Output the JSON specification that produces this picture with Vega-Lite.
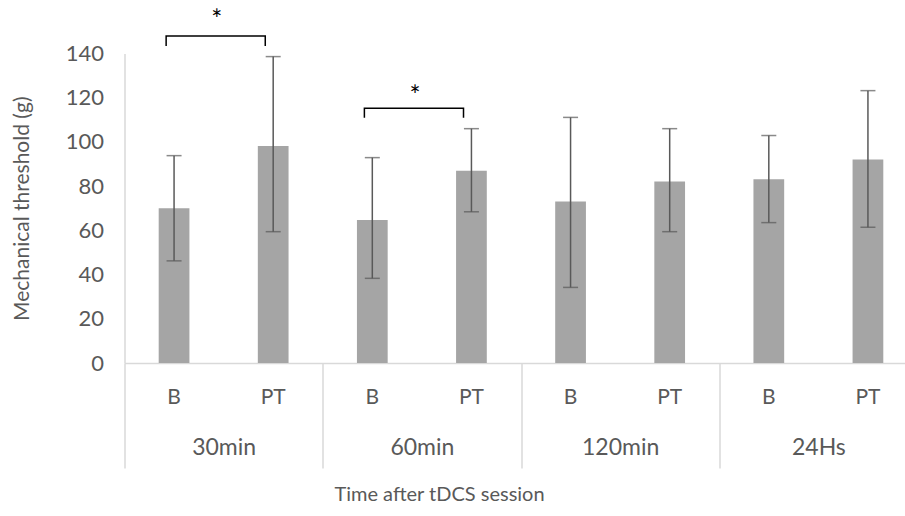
{
  "$schema": "https://vega.github.io/schema/vega-lite/v6.json",
  "width": 780.5,
  "height": 309.5,
  "autosize": "none",
  "padding": {"left": 124.5, "top": 53.5, "right": 0, "bottom": 153},
  "background": "white",
  "datasets": {
    "main": [
      {"time": "30min", "cond": "B", "cat": "30min B", "mean": 70.0, "lo": 46.2, "hi": 93.8},
      {"time": "30min", "cond": "PT", "cat": "30min PT", "mean": 98.2, "lo": 59.4, "hi": 138.6},
      {"time": "60min", "cond": "B", "cat": "60min B", "mean": 64.7, "lo": 38.3, "hi": 92.9},
      {"time": "60min", "cond": "PT", "cat": "60min PT", "mean": 87.0, "lo": 68.4, "hi": 106.0},
      {"time": "120min", "cond": "B", "cat": "120min B", "mean": 73.0, "lo": 34.2, "hi": 111.1},
      {"time": "120min", "cond": "PT", "cat": "120min PT", "mean": 82.1, "lo": 59.4, "hi": 106.0},
      {"time": "24Hs", "cond": "B", "cat": "24Hs B", "mean": 83.1, "lo": 63.5, "hi": 102.9},
      {"time": "24Hs", "cond": "PT", "cat": "24Hs PT", "mean": 92.1, "lo": 61.4, "hi": 123.2}
    ],
    "brackets": [
      {"br": 1, "cat": "30min B", "y": 143.4, "ord": 1},
      {"br": 1, "cat": "30min B", "y": 147.9, "ord": 2},
      {"br": 1, "cat": "30min PT", "y": 147.9, "ord": 3},
      {"br": 1, "cat": "30min PT", "y": 143.4, "ord": 4},
      {"br": 2, "cat": "60min B", "y": 110.9, "ord": 1},
      {"br": 2, "cat": "60min B", "y": 115.2, "ord": 2},
      {"br": 2, "cat": "60min PT", "y": 115.2, "ord": 3},
      {"br": 2, "cat": "60min PT", "y": 110.9, "ord": 4}
    ],
    "stars": [
      {"cat": "30min B", "y": 151.1, "label": "*"},
      {"cat": "60min B", "y": 116.7, "label": "*"}
    ]
  },
  "layer": [
    {
      "layer": [
        {
          "data": {"name": "main"},
          "mark": {"type": "bar", "color": "#a5a5a5", "width": {"band": 0.31}},
          "encoding": {
            "x": {
              "field": "cat",
              "type": "nominal",
              "sort": null,
              "scale": {
                "domain": ["30min B", "30min PT", "60min B", "60min PT", "120min B", "120min PT", "24Hs B", "24Hs PT"],
                "range": [0, 793],
                "paddingInner": 0,
                "paddingOuter": 0
              },
              "axis": {
                "title": null,
                "labelExpr": "split(datum.label, ' ')[1]",
                "labelAngle": 0,
                "labelPadding": 34,
                "labelBaseline": "middle",
                "labelFontSize": 21,
                "ticks": false,
                "domain": true,
                "domainColor": "#d9d9d9",
                "domainWidth": 1.5
              }
            },
            "y": {
              "field": "mean",
              "type": "quantitative",
              "scale": {"domain": [0, 140], "nice": false, "zero": true},
              "axis": {
                "values": [0, 20, 40, 60, 80, 100, 120, 140],
                "title": "Mechanical threshold (g)",
                "titleFontSize": 21,
                "titlePadding": 33,
                "labelPadding": 21,
                "labelFontSize": 22,
                "ticks": false,
                "domain": true,
                "domainColor": "#d9d9d9",
                "domainWidth": 1.5
              }
            }
          }
        },
        {
          "data": {"name": "main"},
          "mark": {"type": "rule", "color": "#595959", "strokeWidth": 1.5},
          "encoding": {
            "x": {"field": "cat", "type": "nominal", "sort": null},
            "y": {"field": "lo", "type": "quantitative"},
            "y2": {"field": "hi"}
          }
        },
        {
          "data": {"name": "main"},
          "mark": {"type": "tick", "orient": "horizontal", "size": 15, "thickness": 1.5, "color": "#595959"},
          "encoding": {
            "x": {"field": "cat", "type": "nominal", "sort": null},
            "y": {"field": "lo", "type": "quantitative"}
          }
        },
        {
          "data": {"name": "main"},
          "mark": {"type": "tick", "orient": "horizontal", "size": 15, "thickness": 1.5, "color": "#595959"},
          "encoding": {
            "x": {"field": "cat", "type": "nominal", "sort": null},
            "y": {"field": "hi", "type": "quantitative"}
          }
        },
        {
          "data": {"name": "brackets"},
          "mark": {"type": "line", "color": "#000000", "strokeWidth": 1.5, "strokeJoin": "miter"},
          "encoding": {
            "x": {"field": "cat", "type": "nominal", "sort": null, "bandPosition": 0.42},
            "y": {"field": "y", "type": "quantitative"},
            "detail": {"field": "br"},
            "order": {"field": "ord", "type": "quantitative"}
          }
        },
        {
          "data": {"name": "stars"},
          "mark": {"type": "text", "color": "#000000", "fontSize": 26, "baseline": "alphabetic", "align": "center"},
          "encoding": {
            "x": {"field": "cat", "type": "nominal", "sort": null, "bandPosition": 0.93},
            "y": {"field": "y", "type": "quantitative"},
            "text": {"field": "label"}
          }
        }
      ]
    },
    {
      "data": {"name": "main"},
      "mark": {"type": "point", "opacity": 0},
      "encoding": {
        "x": {
          "field": "time",
          "type": "nominal",
          "sort": null,
          "scale": {
            "domain": ["30min", "60min", "120min", "24Hs"],
            "range": [0, 793],
            "paddingInner": 0,
            "paddingOuter": 0
          },
          "axis": {
            "orient": "bottom",
            "title": "Time after tDCS session",
            "titleX": 314.5,
            "titlePadding": 16,
            "titleBaseline": "top",
            "domain": false,
            "ticks": true,
            "tickBand": "extent",
            "tickSize": 105,
            "tickColor": "#d9d9d9",
            "tickWidth": 1.5,
            "labelAngle": 0,
            "labelPadding": -20.5,
            "labelBaseline": "middle",
            "labelFontSize": 23
          }
        }
      }
    }
  ],
  "resolve": {"scale": {"x": "independent"}},
  "config": {
    "view": {"stroke": null},
    "font": "Lato",
    "axis": {
      "labelFont": "Lato",
      "titleFont": "Lato",
      "labelColor": "#595959",
      "titleColor": "#595959",
      "labelFontSize": 20,
      "titleFontSize": 20,
      "titleFontWeight": "normal",
      "grid": false
    }
  }
}
